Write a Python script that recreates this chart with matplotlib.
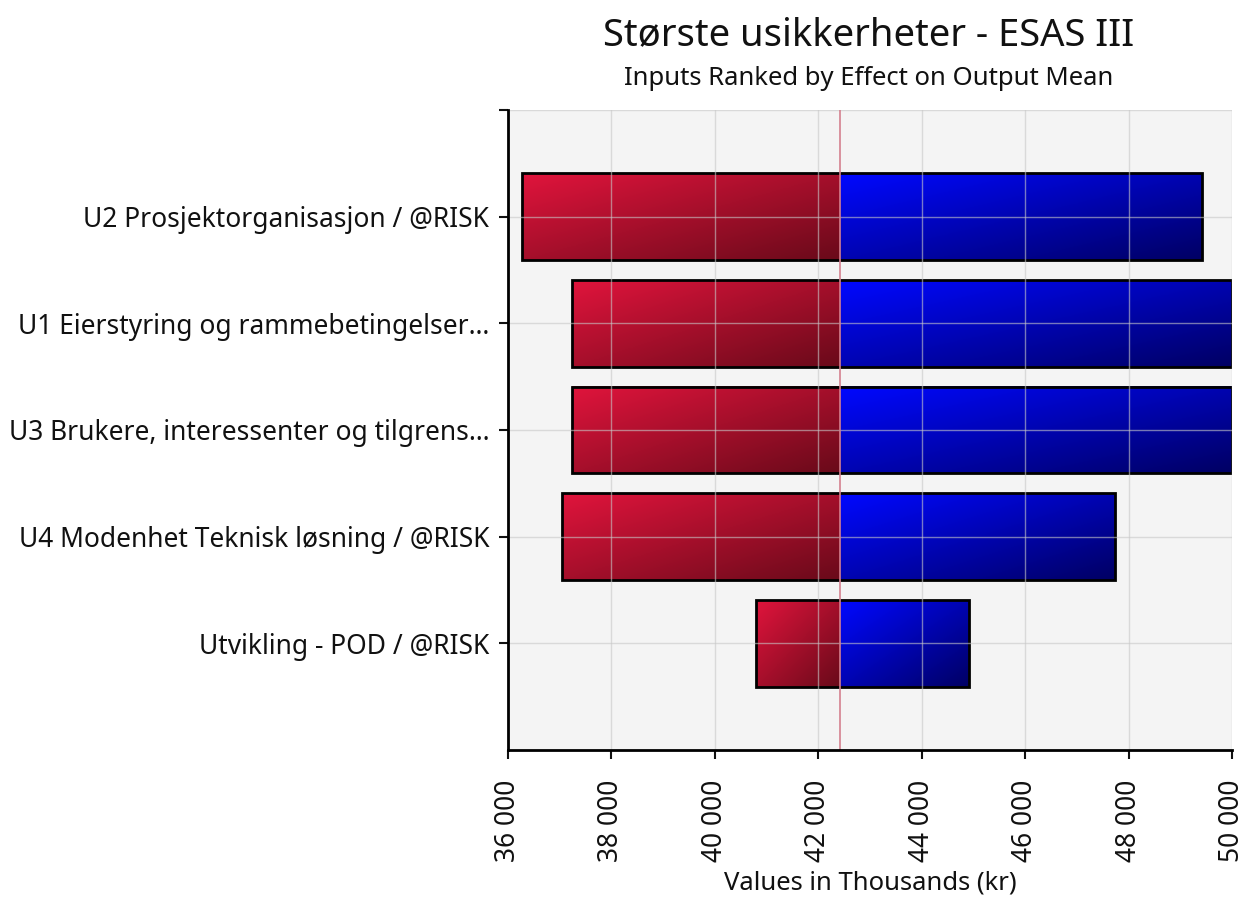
import numpy as np
import matplotlib
matplotlib.use("Agg")
import matplotlib.pyplot as plt
from matplotlib.colors import LinearSegmentedColormap
from matplotlib.patches import Rectangle
from matplotlib.ticker import FuncFormatter

# data (thousands kr)
labels = [
    "U2 Prosjektorganisasjon / @RISK",
    "U1 Eierstyring og rammebetingelser…",
    "U3 Brukere, interessenter og tilgrens…",
    "U4 Modenhet Teknisk løsning / @RISK",
    "Utvikling - POD / @RISK",
]
low_values = [36270, 37240, 37240, 37040, 40800]
high_values = [49420, 50000, 50000, 47740, 44920]
base_value = 42420
x_ticks = [36000, 38000, 40000, 42000, 44000, 46000, 48000, 50000]

plt.rcParams["font.family"] = ["Noto Sans", "DejaVu Sans"]

red_cmap = LinearSegmentedColormap.from_list("red_grad", ["#e0143c", "#6a0a1a"])
blue_cmap = LinearSegmentedColormap.from_list("blue_grad", ["#0008ff", "#000064"])

# diagonal gradient: bright top-left, dark bottom-right
gx, gy = np.meshgrid(np.linspace(0, 1, 64), np.linspace(0, 1, 64))
grad = (gx + gy) / 2

fig = plt.figure(figsize=(12.44, 9), dpi=100)
ax = fig.add_axes([0.4084, 0.1667, 0.5820, 0.7111])
ax.set_facecolor("#f4f4f4")

bar_h = 0.81
for i, (lo, hi) in enumerate(zip(low_values, high_values)):
    top, bottom = i - bar_h / 2, i + bar_h / 2
    for x0, x1, cmap in ((lo, base_value, red_cmap), (base_value, hi, blue_cmap)):
        ax.imshow(grad, cmap=cmap, extent=(x0, x1, bottom, top), origin="upper",
                  aspect="auto", interpolation="bilinear", zorder=1)
    ax.add_patch(Rectangle((lo, top), hi - lo, bar_h, fill=False,
                           edgecolor="black", linewidth=2, zorder=2))

ax.axvline(base_value, color="#d4808e", linewidth=1.2, zorder=4)

ax.set_xlim(36000, 50000)
ax.set_ylim(5, -1)
ax.set_xticks(x_ticks)
ax.xaxis.set_major_formatter(FuncFormatter(lambda v, _: f"{v:,.0f}".replace(",", " ")))
ax.set_yticks([-1] + list(range(len(labels))))
ax.set_yticklabels([""] + labels)

ax.grid(True, color="#c8c8c8", linewidth=1, alpha=0.6, zorder=3)
ax.set_axisbelow(False)

for side in ("top", "right"):
    ax.spines[side].set_visible(False)
for side in ("left", "bottom"):
    ax.spines[side].set_linewidth(2)
    ax.spines[side].set_zorder(5)

ax.tick_params(axis="both", length=6.5, width=1.5, labelsize=19, colors="#111111")
ax.tick_params(axis="x", rotation=90, pad=15)
ax.tick_params(axis="y", pad=7)

ax.set_xlabel("Values in Thousands (kr)", fontsize=18.5, labelpad=6, color="#111111")

fig.text(0.6985, 0.961, "Største usikkerheter - ESAS III", fontsize=27.5,
         ha="center", va="center", color="#111111")
fig.text(0.6985, 0.913, "Inputs Ranked by Effect on Output Mean", fontsize=18.5,
         ha="center", va="center", color="#111111")

fig.savefig("out.png", dpi=100)
